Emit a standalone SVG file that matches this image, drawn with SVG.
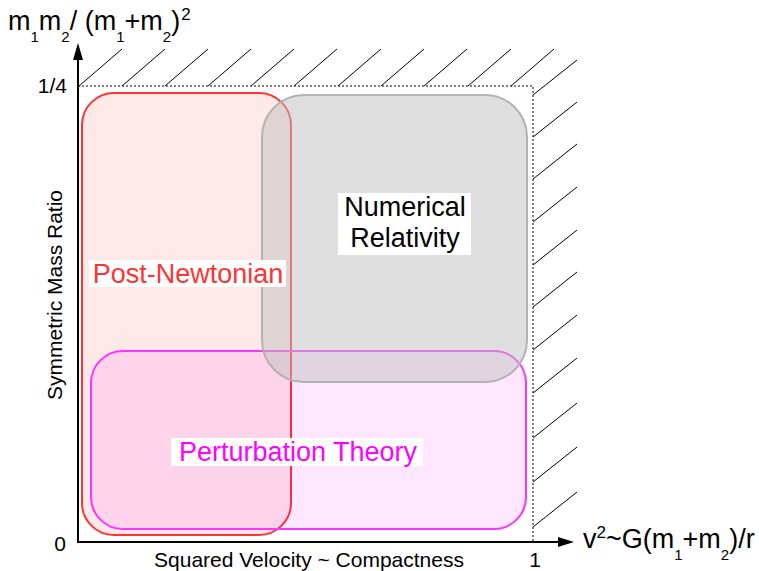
<svg xmlns="http://www.w3.org/2000/svg" width="759" height="571" viewBox="0 0 759 571">
<style>
text{font-family:"Liberation Sans",Arial,sans-serif;}
.hatch{stroke:#000;stroke-width:1;fill:none;}
.dot{stroke:#000;stroke-width:1;stroke-dasharray:2 2;fill:none;}
.axis{stroke:#000;stroke-width:2;fill:none;}
.lbl{font-size:27px;}
.ax{font-size:21px;fill:#000;}
.big{font-size:27px;fill:#000;}
.s{font-size:15px;}
.sup{font-size:17px;}
.bg{fill:#fff;}
</style>
<rect width="759" height="571" fill="#fff"/>
<g id="forbidden-region">
<path class="hatch" d="M79 86l43-37M122 86l43-37M165 86l43-37M208 86l43-37M251 86l43-37M294 86l43-37M338 86l43-37M381 86l43-37M424 86l43-37M468 86l43-37M511 86l43-37"/>
<path class="hatch" d="M533 95l44-35M533 137l44-35M533 179l44-35M533 222l44-35M533 265l44-35M533 307l44-35M533 350l44-35M533 393l44-35M533 438l44-35M533 482l44-35M533 527l44-35"/>
<path class="dot" d="M78 86H533V542"/>
</g>
<g id="post-newtonian">
<rect x="82" y="93" width="209" height="442" rx="32" fill="#ff0000" fill-opacity="0.09" stroke="#ff3333" stroke-width="2"/>
</g>
<g id="perturbation-theory">
<rect x="91" y="351" width="435" height="178" rx="32" fill="#ff00ff" fill-opacity="0.09" stroke="#ff33ff" stroke-width="2"/>
</g>
<g id="numerical-relativity">
<rect x="262" y="95" width="265" height="287" rx="42" fill="#bfbfbf" fill-opacity="0.5" stroke="#b3b3b3" stroke-width="2"/>
</g>
<g id="labels">
<g id="label-post-newtonian">
<rect class="bg" x="89" y="260" width="197" height="27"/>
<text class="lbl" x="188" y="283" text-anchor="middle" fill="#ff3333">Post-Newtonian</text>
</g>
<g id="label-numerical-relativity">
<rect class="bg" x="338" y="193" width="133" height="62"/>
<text class="lbl" x="405" y="216" text-anchor="middle" fill="#000">Numerical</text>
<text class="lbl" x="405" y="247" text-anchor="middle" fill="#000">Relativity</text>
</g>
<g id="label-perturbation-theory">
<rect class="bg" x="171" y="438" width="252" height="28"/>
<text class="lbl" x="298" y="461" text-anchor="middle" fill="#ff00ff">Perturbation Theory</text>
</g>
</g>
<g id="connectors">
<path class="axis" d="M78 542V58"/>
<polygon points="78,43 73,60 83,60" fill="#000"/>
<path class="axis" d="M77 542H560"/>
<polygon points="574,542 558,537 558,547" fill="#000"/>
</g>
<g id="axis-labels">
<text class="big" x="8" y="30">m<tspan class="s" dy="12">1</tspan><tspan dy="-12">m</tspan><tspan class="s" dy="12">2</tspan><tspan dy="-12">/ (m</tspan><tspan class="s" dy="12">1</tspan><tspan dy="-12">+m</tspan><tspan class="s" dy="12">2</tspan><tspan dy="-12">)</tspan><tspan class="sup" dx="1" dy="-10">2</tspan></text>
<text class="big" x="583" y="548">v<tspan class="sup" dy="-10">2</tspan><tspan dy="10">~G(m</tspan><tspan class="s" dy="12">1</tspan><tspan dy="-12">+m</tspan><tspan class="s" dy="12">2</tspan><tspan dy="-12">)/r</tspan></text>
<text class="ax" x="67" y="93" text-anchor="end">1/4</text>
<text class="ax" x="60" y="551" text-anchor="middle">0</text>
<text class="ax" x="535" y="567" text-anchor="middle">1</text>
<text class="ax" x="309" y="567" text-anchor="middle">Squared Velocity ~ Compactness</text>
<text class="ax" transform="translate(62,295) rotate(-90)" text-anchor="middle">Symmetric Mass Ratio</text>
</g>
</svg>
